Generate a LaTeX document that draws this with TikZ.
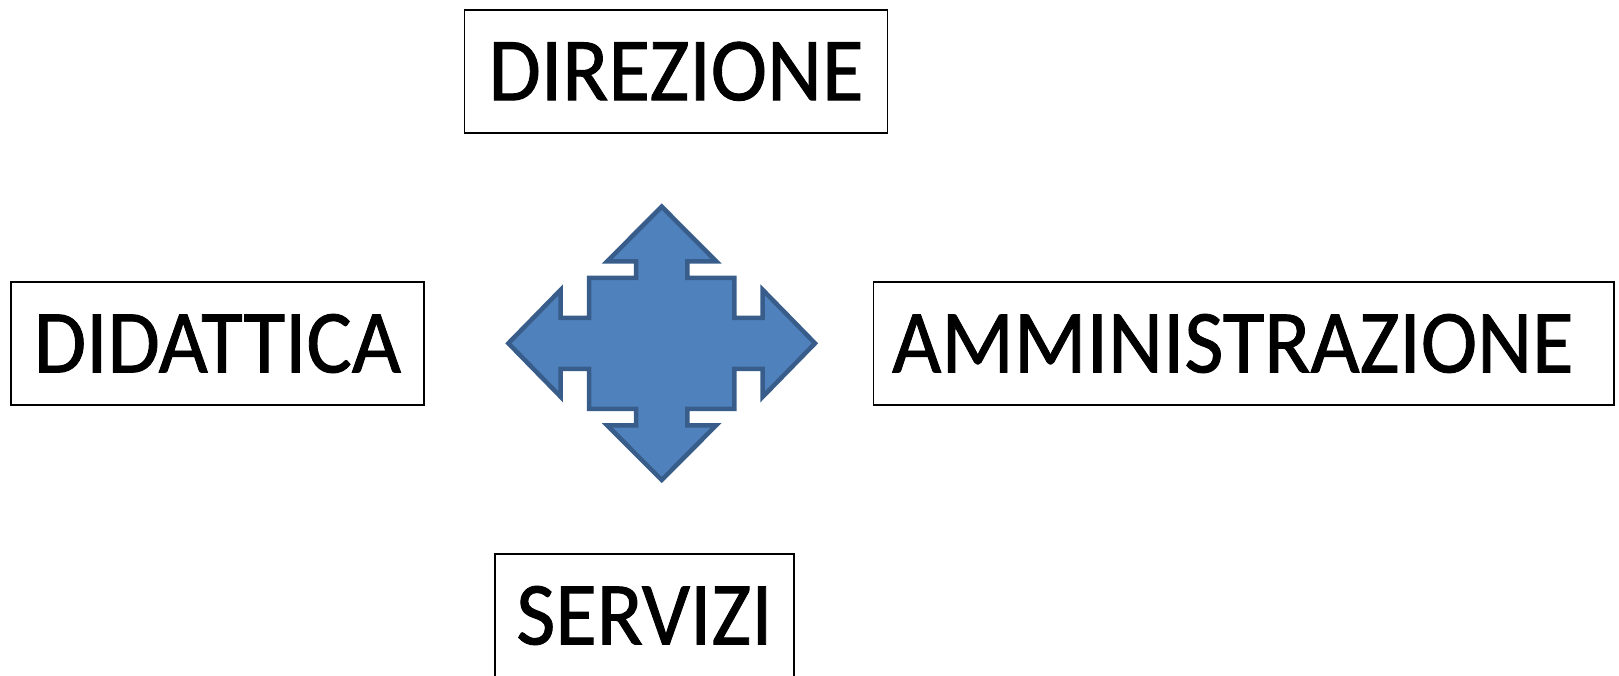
\documentclass[tikz,border=0pt]{standalone}
\usepackage{fontspec}
\setmainfont{Carlito}
\definecolor{arrowfill}{HTML}{4F81BD}
\definecolor{arrowline}{HTML}{385D8A}
\newcommand{\boxtext}[1]{\scalebox{1}[1.06]{\addfontfeature{FakeBold=1}#1}}
\begin{document}
\begin{tikzpicture}[x=1pt,y=-1pt,
  label box/.style={draw=black, line width=1.5pt, rectangle, inner sep=0pt,
    minimum height=123pt, font=\fontsize{85}{100}\selectfont, text=black},
  cross arrow/.style={fill=arrowfill, draw=arrowline, line width=4.5pt, line join=miter}]
\useasboundingbox (0,0) rectangle (1619,675);
\clip (0,0) rectangle (1619,675);
\node[label box, minimum width=423pt] (dir) at (676,71.3) {\boxtext{DIREZIONE}};
\node[label box, minimum width=413pt] (did) at (217.5,343.5) {\boxtext{DIDATTICA}};
\node[label box, minimum width=740.5pt] (amm) at (1243.75,343.5) {\hspace*{-22pt}\boxtext{AMMINISTRAZIONE}};
\node[label box, minimum width=299pt] (ser) at (644.5,615.5) {\boxtext{SERVIZI}};
\coordinate (c) at (661.7,343.3);
\draw[cross arrow] (c) ++(0,-136.7)
  -- ++(54.5,54.7) -- ++(-28.8,0) -- ++(0,16.5) -- ++(46.9,0) -- ++(0,40)
  -- ++(28.4,0) -- ++(0,-28) -- ++(52.3,53.5) -- ++(-52.3,53.5) -- ++(0,-28)
  -- ++(-28.4,0) -- ++(0,40) -- ++(-46.9,0) -- ++(0,16.5) -- ++(28.8,0)
  -- ++(-54.5,54.7) -- ++(-54.5,-54.7) -- ++(28.8,0) -- ++(0,-16.5) -- ++(-46.9,0)
  -- ++(0,-40) -- ++(-28.4,0) -- ++(0,28) -- ++(-52.3,-53.5) -- ++(52.3,-53.5)
  -- ++(0,28) -- ++(28.4,0) -- ++(0,-40) -- ++(46.9,0) -- ++(0,-16.5)
  -- ++(-28.8,0) -- cycle;
\end{tikzpicture}
\end{document}
